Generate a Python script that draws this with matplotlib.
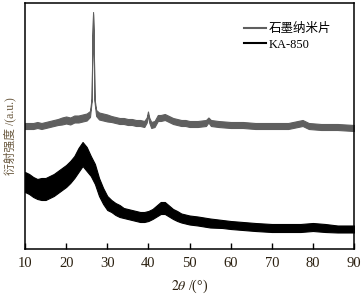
import matplotlib
matplotlib.use("Agg")
import matplotlib.pyplot as plt
from matplotlib.lines import Line2D
import numpy as np

plt.rcParams["font.family"] = ["Liberation Serif", "Noto Sans CJK SC"]
plt.rcParams["mathtext.fontset"] = "stix"

# graphite nanosheet trace: angle, centre intensity, noise half width
gAngle = [10, 11, 12, 13, 14, 15, 16, 17, 18, 19, 20, 21, 22, 23, 24, 25, 25.8,
          26.2, 26.4, 26.55, 26.7, 26.9, 27.3, 28, 29, 30, 31, 32, 33, 34, 35, 36,
          37, 38, 39, 39.6, 39.9, 40.2, 40.7, 41.5, 42.3, 43, 44, 45, 46, 47, 48,
          49, 50, 52, 54, 54.6, 55.2, 57, 60, 63, 66, 70, 74, 77.5, 79, 82, 86, 90]
gCentre = [123, 123, 123, 124, 123, 124, 125, 126, 127, 128, 129, 128, 130, 130,
           131, 132, 135, 149, 209, 236, 209, 149, 136, 133, 132, 131, 130, 129,
           128, 128, 127, 127, 126, 126, 125, 129, 136, 129, 124, 125, 131, 131,
           132, 130, 128, 127, 126, 126, 125, 125, 126, 129, 126, 125, 124, 124,
           123, 123, 123, 126, 123, 122, 122, 121]
gWidth = [3, 3, 3, 3, 3, 3, 3, 3, 3, 3.5, 3.5, 3.5, 3.5, 3.5, 3.5, 3.5, 3, 1.5, 1,
          1, 1, 1.5, 3, 3.5, 3.5, 3.5, 3, 3, 3, 3, 3, 3, 3, 3, 3, 2.5, 1.5, 2.5, 3,
          3, 3, 3, 3, 3, 3, 3, 3, 3, 3, 3, 3, 2.5, 3, 3, 3, 3, 3, 3, 3, 3, 3, 3, 3, 3]

# KA-850 trace
kAngle = [10, 11, 12, 13, 14, 15, 16, 17, 18, 19, 20, 21, 22, 23, 24, 25, 26, 27,
          28, 29, 30, 31, 32, 33, 34, 35, 36, 37, 38, 39, 40, 41, 42, 43, 44, 45,
          46, 47, 48, 49, 50, 52, 55, 58, 60, 63, 66, 70, 74, 77, 80, 83, 86, 90]
kCentre = [67, 65, 62, 60, 60, 60, 62, 64, 67, 70, 73, 77, 82, 89, 95, 90, 83, 75,
           62, 53, 46, 43, 40, 38, 36, 35, 34, 33, 32, 32, 33, 35, 38, 41, 41, 38,
           35, 33, 31, 30, 29, 28, 26, 25, 24, 23, 22, 21, 21, 21, 22, 21, 20, 20]
kWidth = [10, 10, 10, 10, 11, 11, 11, 11, 11, 11, 11, 11, 11, 12, 12, 12, 10, 10,
          9, 8, 7, 6, 6, 6, 5, 5, 5, 5, 5, 5, 5, 5, 5.5, 6, 6, 5.5, 5, 5, 4.5, 4.5,
          4.5, 4.5, 4.5, 4, 4, 4, 4, 4, 4, 4, 4, 4, 3.5, 3.5]

xTicks = [10, 20, 30, 40, 50, 60, 70, 80, 90]
labels = ["石墨纳米片", "KA-850"]
colors = ["#5f5f5f", "#000000"]

fig = plt.figure(figsize=(3.62, 3.05), dpi=100)
ax = fig.add_axes([25 / 362, 56 / 305, 329 / 362, 246 / 305])

for ang, cen, wid, col in [(gAngle, gCentre, gWidth, colors[0]),
                           (kAngle, kCentre, kWidth, colors[1])]:
    ang = np.array(ang, dtype=float)
    cen = np.array(cen, dtype=float)
    wid = np.array(wid, dtype=float)
    ax.fill_between(ang, cen - wid, cen + wid, color=col, linewidth=0.8,
                    edgecolor=col)

ax.set_xlim(10, 90)
ax.set_ylim(0, 246)
ax.set_xticks(xTicks)
ax.set_yticks([])
ax.tick_params(axis="x", direction="in", length=4, width=1, labelsize=10.5,
               labelcolor="#2b2010", pad=6)
for s in ax.spines.values():
    s.set_linewidth(1.1)

ax.set_xlabel(r"$2\theta$ /(°)", fontsize=10, color="#2b2010", labelpad=5)
ax.set_ylabel("衍射强度 /(a.u.)", fontsize=8.5, color="#6b5a40")
ax.yaxis.set_label_coords(-0.025, 0.46)

handles = [Line2D([], [], color=c, linewidth=1.5) for c in colors]
ax.legend(handles, labels, loc="upper right", bbox_to_anchor=(0.965, 0.965),
          frameon=False, fontsize=9, handlelength=1.8, handletextpad=0.2,
          labelspacing=0.3)

fig.savefig("out.png", dpi=100)
